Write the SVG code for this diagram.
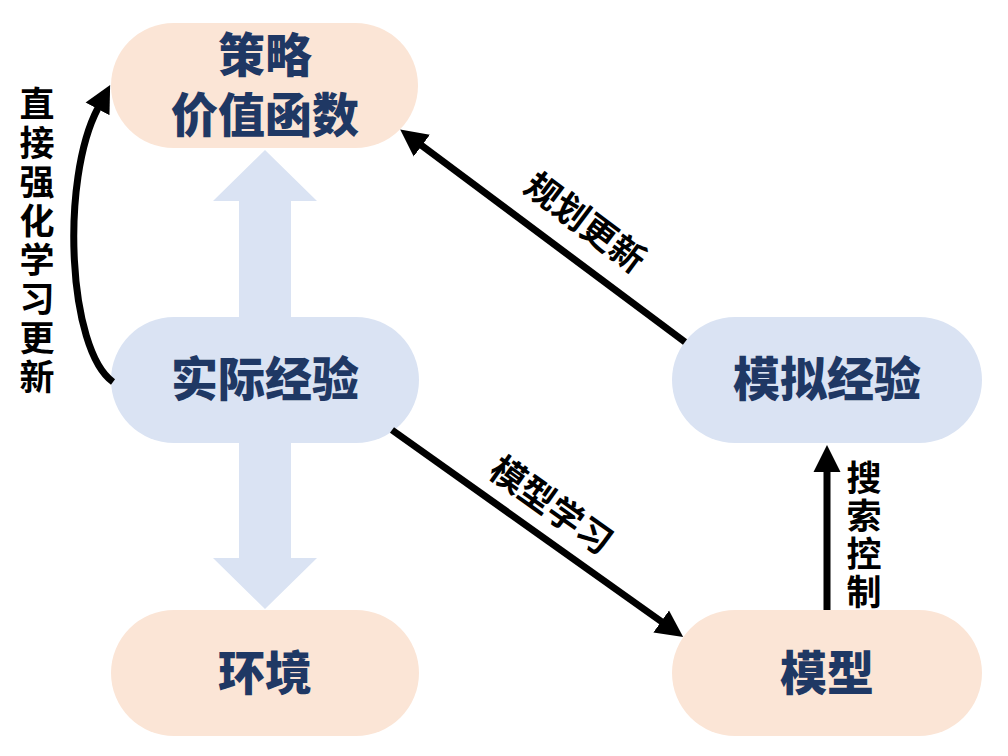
<svg xmlns="http://www.w3.org/2000/svg" width="1008" height="756" viewBox="0 0 1008 756">
<style>
.peach{fill:#FBE5D6}
.blue{fill:#DAE3F3}
.nt{font-family:"Noto Sans CJK SC","Noto Sans CJK JP",sans-serif;font-weight:900;font-size:47px;fill:#1F3864;text-anchor:middle}
.lb{font-family:"Noto Sans CJK SC","Noto Sans CJK JP",sans-serif;font-weight:700;font-size:35px;fill:#000;text-anchor:middle;dominant-baseline:central}
.vl{font-family:"Noto Sans CJK SC","Noto Sans CJK JP",sans-serif;font-weight:700;font-size:35px;fill:#000;text-anchor:middle;writing-mode:vertical-rl}
.ln{fill:none;stroke:#000;stroke-width:7}
</style>
<defs>
<marker id="ah" markerUnits="userSpaceOnUse" markerWidth="28" markerHeight="28" refX="1" refY="13.5" orient="auto" viewBox="0 0 28 27">
<path d="M0,0 L27,13.5 L0,27 z" fill="#000"/>
</marker>
</defs>
<rect width="1008" height="756" fill="#fff"/>
<g id="bigarrow">
<polygon class="blue" points="265,150 317,201 291,201 291,558 317,558 265,609 213,558 239,558 239,201 213,201"/>
</g>
<g id="node-policy">
<rect class="peach" x="111" y="23" width="307" height="125" rx="62.5"/>
<text class="nt" x="265" y="72">策略</text>
<text class="nt" x="265" y="132">价值函数</text>
</g>
<g id="node-real">
<rect class="blue" x="111" y="317" width="308" height="126" rx="63"/>
<text class="nt" x="265" y="396">实际经验</text>
</g>
<g id="node-env">
<rect class="peach" x="111" y="610" width="308" height="126" rx="63"/>
<text class="nt" x="265" y="690">环境</text>
</g>
<g id="node-sim">
<rect class="blue" x="672" y="317" width="310" height="126" rx="63"/>
<text class="nt" x="827" y="396">模拟经验</text>
</g>
<g id="node-model">
<rect class="peach" x="672" y="610" width="310" height="126" rx="63"/>
<text class="nt" x="827" y="690">模型</text>
</g>
<g id="connectors">
<path class="ln" d="M113,382 C68,350 60,180 98,108" marker-end="url(#ah)"/>
<line class="ln" x1="685" y1="342" x2="421" y2="145" marker-end="url(#ah)"/>
<line class="ln" x1="392" y1="430" x2="662" y2="622" marker-end="url(#ah)"/>
<line class="ln" x1="827" y1="610" x2="827" y2="471" stroke-width="9" marker-end="url(#ah)"/>
</g>
<g id="labels">
<text class="vl" x="37" y="242" letter-spacing="4">直接强化学习更新</text>
<text class="lb" transform="translate(587,220) rotate(36.8)" x="0" y="0">规划更新</text>
<text class="lb" transform="translate(553,503) rotate(35.4)" x="0" y="0">模型学习</text>
<text class="vl" x="864" y="536" letter-spacing="3">搜索控制</text>
</g>
</svg>
